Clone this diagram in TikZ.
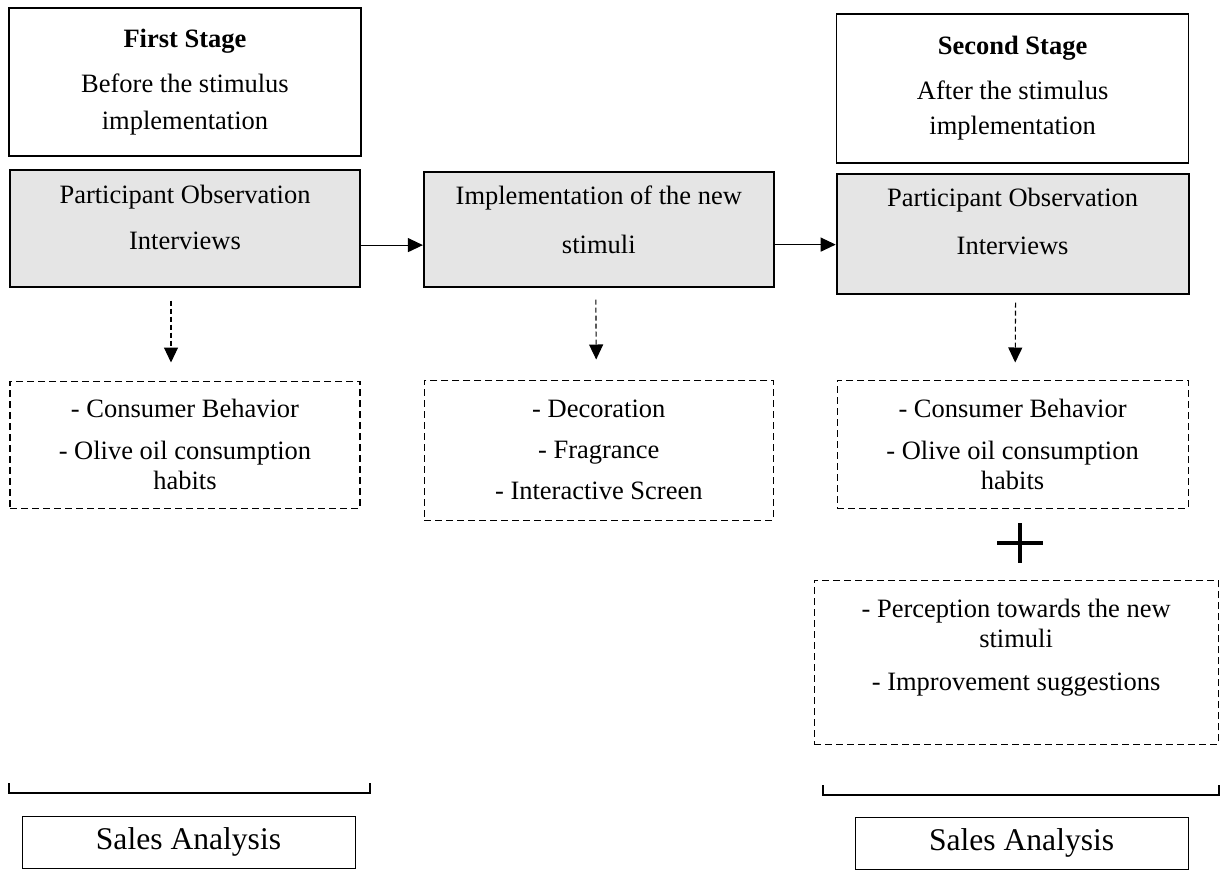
\documentclass[tikz,border=0pt]{standalone}
\usepackage{fontspec}
\setmainfont{Liberation Serif}
\usetikzlibrary{arrows.meta, positioning}
\tikzstyle{stage} = [rectangle, draw=black, line width=0.7pt, align=center, inner sep=0pt, minimum width=176pt]
\tikzstyle{method} = [rectangle, draw=black, line width=0.9pt, fill=gray!20, align=center, inner sep=0pt, minimum width=175pt, minimum height=58.5pt]
\tikzstyle{outcome} = [rectangle, draw=black, line width=0.6pt, dash pattern=on 3.5pt off 2pt, align=center, inner sep=0pt, minimum width=175pt]
\tikzstyle{sales} = [rectangle, draw=black, line width=0.5pt, minimum width=166.5pt, minimum height=26pt, font=\fontsize{15.8pt}{18pt}\selectfont]
\tikzstyle{arrow} = [line width=0.55pt, -{Triangle[length=7.5pt,width=7pt]}]
\tikzstyle{dasharrow} = [arrow, dash pattern=on 2.5pt off 1.5pt]
\tikzstyle{bracket} = [line width=1pt]

\begin{document}
\begin{tikzpicture}[x=0.5pt, y=-0.5pt, every node/.style={font=\fontsize{13.25pt}{15pt}\selectfont}]
    \useasboundingbox (0,0) rectangle (1220,873);
    % upper row
    \node (first) [stage, minimum height=74pt] at (185,82) {\textbf{First Stage}\\[7.5pt]Before the stimulus\\[3.5pt]implementation};
    \node (obs1) [method, below=6pt of first] {Participant Observation\\[8pt]Interviews\\[-4.5pt]\mbox{}};
    \node (impl) [method, right=31pt of obs1, minimum height=57.5pt, yshift=-0.5pt] {Implementation of the new\\[9.5pt]stimuli\\[-6pt]\mbox{}};
    \node (obs2) [method, right=30.5pt of impl, minimum width=176pt, minimum height=60pt, yshift=-2.25pt] {Participant Observation\\[9pt]Interviews\\[-3pt]\mbox{}};
    \node (second) [stage, above=4.5pt of obs2, minimum height=74.5pt] {\textbf{Second Stage}\\[7.5pt]After the stimulus\\[2.5pt]implementation};
    % dashed boxes
    \node (dash1) [outcome, below=46.5pt of obs1, minimum height=63.5pt] {- Consumer Behavior\\[6pt]- Olive oil consumption\\habits};
    \node (dash2) [outcome, below=46pt of impl, minimum width=174.5pt, minimum height=70pt] {- Decoration\\[5.5pt]- Fragrance\\[5.5pt]- Interactive Screen};
    \node (dash3) [outcome, below=42.5pt of obs2, minimum width=175.5pt, minimum height=64pt] {- Consumer Behavior\\[6pt]- Olive oil consumption\\habits};
    \node (dash4) [outcome, below=35.5pt of dash3, minimum width=202pt, minimum height=82pt, xshift=1.75pt] {- Perception towards the new\\stimuli\\[6.5pt]- Improvement suggestions\\[2.5pt]\mbox{}};
    % sales
    \node (sales1) [sales, below=153.5pt of dash1, xshift=1.75pt] {Sales Analysis};
    \node (sales2) [sales, below=36pt of dash4, xshift=2.75pt] {Sales Analysis};

    \draw [arrow] ([yshift=-8.5pt]obs1.east) -- ([yshift=-8pt]impl.west);
    \draw [arrow] ([yshift=-7.75pt]impl.east) -- ([yshift=-5.5pt]obs2.west);
    \draw [dasharrow, shorten <=6.5pt, shorten >=9pt] ([xshift=-7pt]obs1.south) -- ([xshift=-7pt]dash1.north);
    \draw [dasharrow, shorten <=6pt, shorten >=10pt] ([xshift=-1.5pt]impl.south) -- ([xshift=-1.25pt]dash2.north);
    \draw [dasharrow, shorten <=4pt, shorten >=8.5pt] ([xshift=1.5pt]obs2.south) -- ([xshift=1.25pt]dash3.north);

    % plus and brackets
    \draw [line width=1.6pt] (997,543) -- (1043,543) (1020,523) -- (1020,563);
    \draw [bracket] (9,783) -- (9,793) -- (370,793) -- (370,783);
    \draw [bracket] (823,785) -- (823,795) -- (1219,795) -- (1219,785);
\end{tikzpicture}
\end{document}
